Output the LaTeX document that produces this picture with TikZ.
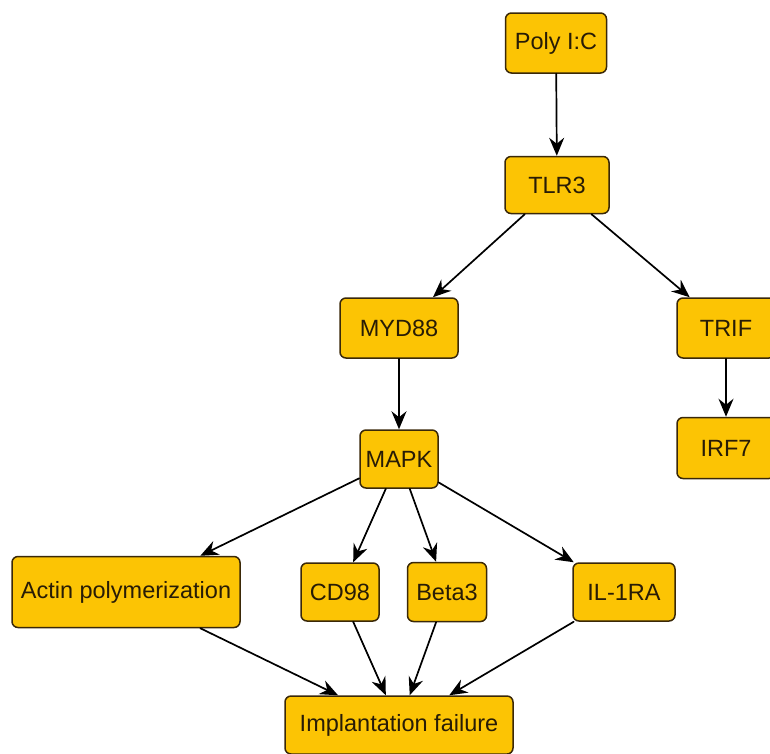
\documentclass[tikz,border=0pt]{standalone}
\usepackage{fontspec}
\setmainfont{Liberation Sans}
\usepackage{tikz}
\usetikzlibrary{arrows.meta}
\usetikzlibrary{positioning}

\definecolor{boxfill}{RGB}{252,196,4}
\definecolor{boxline}{RGB}{58,40,8}
\definecolor{boxtext}{RGB}{40,28,6}

\tikzset{
  gene/.style={draw=boxline,fill=boxfill,line width=1.5pt,rounded corners=6pt,
    inner sep=0pt,minimum height=58pt,text=boxtext,
    font=\fontsize{23.5}{27}\selectfont},
  link/.style={line width=1.7pt,-{Stealth[length=18pt,width=15pt,inset=6pt]}}
}

\begin{document}
\begin{tikzpicture}[line cap=round,line join=round,x=1pt,y=-1pt]
\useasboundingbox (0,0) rectangle (770,753);
\clip (0,0) rectangle (770,753);
% nodes
\node [gene,minimum width=101pt,minimum height=60pt] (polyic) at (556,43) {Poly I:C};
\node [gene,minimum width=104pt,minimum height=57pt] (tlr3) at (557,185) {TLR3};
\node [gene,minimum width=118pt,minimum height=60pt] (myd88) at (399,328) {MYD88};
\node [gene,minimum width=98pt,minimum height=60pt] (trif) at (726,328) {TRIF};
\node [gene,minimum width=98pt,minimum height=61pt] (irf7) at (726,448) {IRF7};
\node [gene,minimum width=78pt] (mapk) at (399,459) {MAPK};
\node [gene,minimum width=228pt,minimum height=71pt] (actin) at (126,592) {Actin polymerization};
\node [gene,minimum width=78pt] (cd98) at (340,592) {CD98};
\node [gene,minimum width=79pt,minimum height=59pt] (beta3) at (447,592) {Beta3};
\node [gene,minimum width=102pt] (il1ra) at (624,592) {IL-1RA};
\node [gene,minimum width=228pt] (fail) at (399,725) {Implantation failure};
% edges
\draw [link] (polyic)-- (tlr3);
\draw [link] (tlr3)-- (myd88);
\draw [link] (tlr3)-- (trif);
\draw [link] (trif)-- (irf7);
\draw [link] (myd88)-- (mapk);
\draw [link] (mapk)-- (actin);
\draw [link] (mapk)-- (cd98);
\draw [link] (mapk)-- (beta3);
\draw [link] (mapk)-- (il1ra);
\draw [link] (actin)-- (fail);
\draw [link] (cd98)-- (fail);
\draw [link] (beta3)-- (fail);
\draw [link] (il1ra)-- (fail);
\end{tikzpicture}
\end{document}
